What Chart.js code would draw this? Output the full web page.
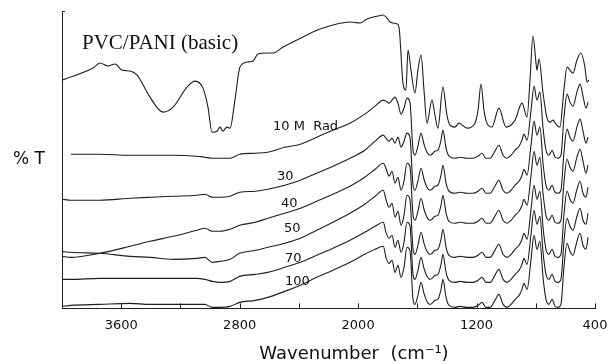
<!DOCTYPE html>
<html>
<head>
<meta charset="utf-8">
<script src="https://cdn.jsdelivr.net/npm/chart.js@4.4.0/dist/chart.umd.min.js"></script>
<style>
  body { margin: 0; background: #fff; }
  #wrap { width: 611px; height: 364px; }
</style>
</head>
<body>
<div id="wrap"><canvas id="ir"></canvas></div>
<script>
// top spectrum, PVC/PANI (basic) - wavenumber (cm-1) and %T (arbitrary)
const pvcWn = [4000,3791,3743,3689,3642,3595,3541,3493,3406,3318,
  3250,3156,3102,3048,3014,2987,2953,2933,2913,2886,
  2865,2832,2798,2750,2710,2676,2609,2575,2507,2440,
  2372,2305,2237,2143,2055,1987,1940,1866,1832,1805,
  1785,1737,1724,1697,1677,1663,1643,1616,1596,1575,
  1555,1535,1501,1481,1461,1427,1400,1379,1346,1319,
  1265,1211,1190,1170,1150,1130,1096,1049,1001,940,
  893,859,839,819,799,792,778,751,724,704,
  684,664,637,610,589,549,522,495,468,454,441];
const pvcT = [228,240,245,242,244,238,237,233,211,196,
  201,221,227,220,201,176,177,181,177,181,
  180,208,241,246,247,254,255,255,261,266,
  271,276,280,284,286,285,289,292,293,290,
  286,284,281,225,218,258,238,215,238,253,
  218,185,208,193,180,221,193,183,181,185,
  180,185,198,224,198,185,181,200,181,188,
  205,191,228,272,246,238,249,215,190,186,
  188,184,181,218,241,235,248,255,241,226,228];

// shared wavenumber grid of the irradiated films
const radWn = [4000,3940,3745,3540,3405,3250,3090,3035,2985,2935,
  2865,2800,2695,2610,2495,2390,2280,2170,2055,1955,1885,1830,
  1812,1791,1771,1751,1731,1710,1690,1670,1650,1629,
  1616,1596,1575,1555,1535,1515,1501,1481,1461,1440,
  1427,1406,1386,1346,1312,1265,1224,1190,1163,1136,
  1109,1076,1049,1021,994,967,940,913,893,880,
  859,832,812,792,772,751,731,711,690,670,
  650,630,610,589,569,549,522,501,481,461,447];

const rad10 = [null,154,154,153,153,153,152,151,150,150,
  150,154,155,156,161,164,171,178,185,194,202,208,
  207,205,208,211,205,194,200,210,206,158,
  153,162,175,164,156,153,154,157,158,168,
  178,160,152,150,151,150,150,152,155,150,
  150,157,163,153,150,153,158,162,168,174,
  168,198,222,208,216,180,158,153,158,151,
  150,153,190,214,206,202,216,224,212,200,206];
const rad30 = [109,108,108,110,111,112,113,114,111,111,
  112,116,117,119,123,128,135,142,150,158,167,173,
  170,167,170,165,171,161,167,175,171,123,
  118,127,140,129,121,118,119,122,123,133,
  143,125,117,115,116,115,115,117,120,115,
  115,122,128,118,115,118,123,127,133,139,
  133,163,187,173,181,145,123,118,123,116,
  115,118,155,179,171,167,181,189,177,165,171];
const rad40 = [52,51,55,62,67,72,78,80,77,77,
  79,83,86,90,95,100,107,114,122,131,139,145,
  140,132,137,125,131,118,127,145,142,93,
  88,97,110,99,91,88,89,92,93,103,
  113,95,87,85,86,85,85,87,90,85,
  85,92,98,88,85,88,93,97,103,109,
  103,133,157,143,151,115,93,88,93,86,
  85,88,125,149,141,137,151,159,147,135,143];
const rad50 = [57,56,55,52,51,49,50,51,46,47,
  49,55,58,61,65,70,78,86,95,104,112,118,
  109,101,105,91,97,83,93,113,109,59,
  54,63,76,65,57,54,55,58,59,69,
  79,61,53,51,52,51,51,53,56,51,
  51,58,64,54,51,54,59,63,69,75,
  69,99,123,109,117,81,59,54,59,52,
  51,54,93,117,109,105,119,127,115,111,121];
const rad70 = [29,29,30,30,30,30,30,29,27,26,
  27,32,34,36,41,46,53,60,68,76,82,86,
  76,70,73,61,68,56,66,86,83,34,
  29,38,51,40,32,29,30,33,34,44,
  54,36,28,26,27,26,26,28,31,26,
  26,33,39,29,26,29,34,38,44,50,
  44,74,98,84,92,56,34,29,34,27,
  26,29,66,90,82,78,92,100,88,84,95];
const rad100 = [2,3,4,5,4,4,4,4,1,1,
  2,6,8,11,17,23,31,38,46,54,59,62,
  51,45,48,36,43,31,41,61,58,9,
  4,13,26,15,7,4,5,8,9,19,
  29,11,3,1,2,1,1,3,6,1,
  1,8,14,4,1,4,9,13,19,25,
  19,49,73,59,67,31,9,4,9,2,
  1,4,41,65,57,53,67,75,63,59,71];

const tickLabels = [3600, 2800, 2000, 1200, 400];
const tickMarks = [3600, 3200, 2800, 2400, 2000, 1600, 1200, 800, 400];

function pts(xs, ys) {
  return xs.map((x, i) => ({ x: x, y: ys[i] }));
}

const series = [
  pts(pvcWn, pvcT),
  pts(radWn, rad10),
  pts(radWn, rad30),
  pts(radWn, rad40),
  pts(radWn, rad50),
  pts(radWn, rad70),
  pts(radWn, rad100),
];

// labels, tick marks and the little nub on top of the y axis
const decor = {
  id: "decor",
  afterDraw(chart) {
    const ctx = chart.ctx;
    const xs = chart.scales.x;
    const area = chart.chartArea;
    ctx.save();
    ctx.strokeStyle = "#222";
    ctx.lineWidth = 1;
    tickMarks.forEach(function (v) {
      let px = Math.round(xs.getPixelForValue(v)) + 0.5;
      ctx.beginPath();
      ctx.moveTo(px, area.bottom);
      ctx.lineTo(px, area.bottom - 5);
      ctx.stroke();
    });
    ctx.beginPath();
    ctx.moveTo(area.left, area.top + 0.5);
    ctx.lineTo(area.left + 3, area.top + 0.5);
    ctx.stroke();

    ctx.fillStyle = "#111";
    ctx.textBaseline = "alphabetic";
    ctx.font = '21px "Liberation Serif"';
    ctx.fillText("PVC/PANI (basic)", 82, 49);
    ctx.font = '13px "DejaVu Sans"';
    ctx.fillText("10 M  Rad", 273, 130);
    ctx.fillText("30", 277, 180);
    ctx.fillText("40", 281, 207);
    ctx.fillText("50", 284, 232);
    ctx.fillText("70", 285, 262);
    ctx.fillText("100", 285, 285);
    ctx.font = '17px "DejaVu Sans"';
    ctx.fillText("% T", 13, 164);
    ctx.textAlign = "center";
    ctx.font = '18px "DejaVu Sans"';
    ctx.fillText("Wavenumber  (cm\u207B\u00B9)", 354, 359);
    ctx.restore();
  },
};

new Chart(document.getElementById("ir"), {
  type: "line",
  data: {
    datasets: series.map(function (d) {
      return {
        data: d,
        borderColor: "#1e1e1e",
        borderWidth: 1.1,
        pointRadius: 0,
        fill: false,
        cubicInterpolationMode: "monotone",
        spanGaps: false,
      };
    }),
  },
  options: {
    responsive: true,
    maintainAspectRatio: false,
    animation: false,
    layout: { padding: { left: 62, right: 0, top: 11, bottom: 22 } },
    plugins: { legend: { display: false }, tooltip: { enabled: false } },
    scales: {
      x: {
        type: "linear",
        reverse: true,
        min: 400,
        max: 4000,
        afterBuildTicks: function (s) {
          s.ticks = tickLabels.map(function (v) { return { value: v }; });
        },
        afterFit: function (s) {
          s.paddingRight = 16;
        },
        grid: { display: false, drawTicks: false },
        border: { display: true, color: "#222", width: 1 },
        ticks: {
          color: "#111",
          font: { family: "DejaVu Sans", size: 13 },
          padding: 9,
          maxRotation: 0,
          autoSkip: false,
          callback: function (v) { return String(v); },
        },
      },
      y: {
        min: 0,
        max: 297,
        ticks: { display: false },
        grid: { display: false, drawTicks: false },
        border: { display: true, color: "#222", width: 1 },
      },
    },
  },
  plugins: [decor],
});
</script>
</body>
</html>
